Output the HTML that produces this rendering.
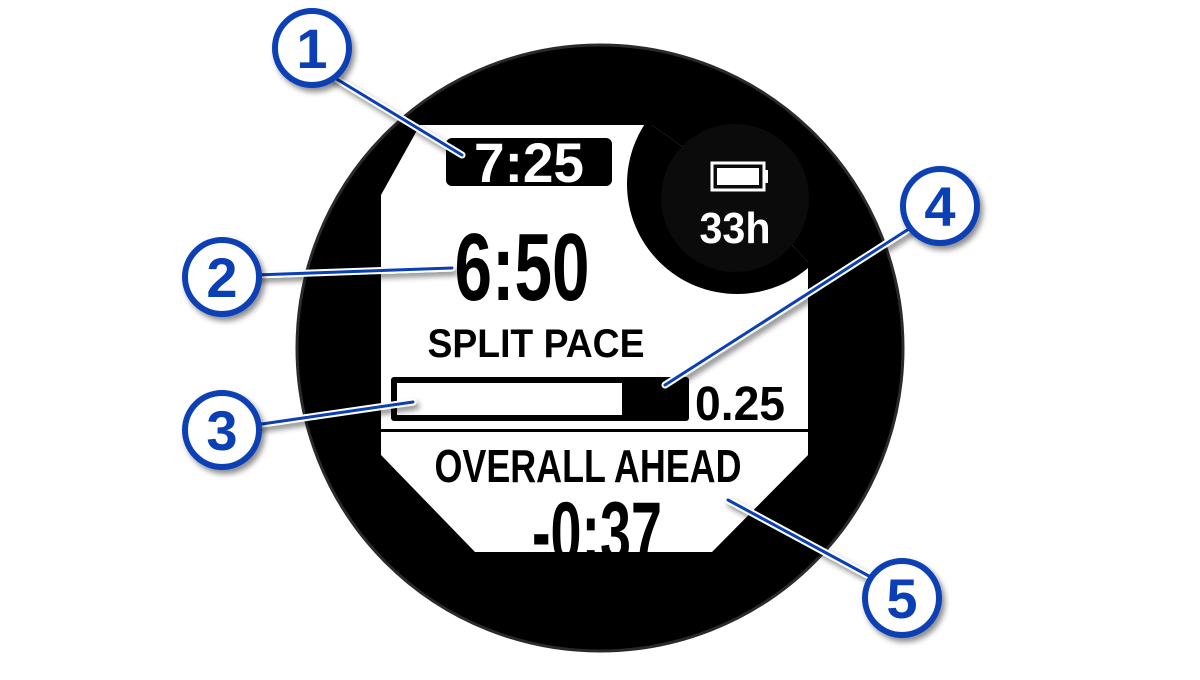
<!DOCTYPE html>
<html><head><style>
html,body{margin:0;padding:0;background:#fff;}
body{width:1200px;height:675px;overflow:hidden;}
svg text{font-family:"Liberation Sans Narrow","Liberation Sans",sans-serif;font-weight:bold;}
</style></head><body>
<svg width="1200" height="675" viewBox="0 0 1200 675" xmlns="http://www.w3.org/2000/svg">
<defs>
<filter id="sh" x="-50%" y="-50%" width="200%" height="200%"><feDropShadow dx="3" dy="4" stdDeviation="3" flood-color="#000" flood-opacity="0.45"/></filter>
<clipPath id="scr"><path d="M420,125 L652,125 L735,184 L808,262 L808,455 L712,552 L475,552 L381,455 L381,195 Z"/></clipPath>
</defs>
<circle cx="600" cy="348" r="303" fill="#000" stroke="#2a2a2a" stroke-width="3"/>
<g clip-path="url(#scr)">
<rect x="381" y="125" width="427" height="427" fill="#fff"/>
<circle cx="737" cy="184" r="110" fill="#000"/>
<rect x="446" y="138" width="166" height="48" rx="6" fill="#000"/>
<text x="529" y="182" font-size="56" fill="#fff" text-anchor="middle" textLength="110" lengthAdjust="spacingAndGlyphs">7:25</text>
<text x="522" y="300" font-size="96" fill="#000" text-anchor="middle" textLength="135" lengthAdjust="spacingAndGlyphs">6:50</text>
<text x="536" y="357" font-size="40" fill="#000" text-anchor="middle" textLength="217" lengthAdjust="spacingAndGlyphs">SPLIT PACE</text>
<rect x="391" y="377" width="298" height="44" rx="3" fill="#000"/>
<rect x="397" y="383" width="225" height="32" fill="#fff"/>
<text x="740" y="420" font-size="48" fill="#000" text-anchor="middle" textLength="90" lengthAdjust="spacingAndGlyphs">0.25</text>
<rect x="381" y="429" width="427" height="3" fill="#000"/>
<text x="588" y="482" font-size="46" fill="#000" text-anchor="middle" textLength="307" lengthAdjust="spacingAndGlyphs">OVERALL AHEAD</text>
<text x="597" y="562" font-size="86" fill="#000" text-anchor="middle" textLength="130" lengthAdjust="spacingAndGlyphs">-0:37</text>
</g>
<circle cx="735" cy="198" r="74" fill="#0b0b0b"/>
<rect x="712" y="163" width="52" height="27" fill="none" stroke="#fff" stroke-width="3"/>
<rect x="764" y="170" width="4" height="13" fill="#fff"/>
<rect x="717" y="168" width="42" height="17" fill="#fff"/>
<text x="735" y="243" font-size="44" fill="#fff" text-anchor="middle" textLength="71" lengthAdjust="spacingAndGlyphs">33h</text>
<g stroke-linecap="round">
<g stroke="#fff" stroke-width="7" filter="url(#sh)">
<line x1="330" y1="75" x2="462" y2="155"/><line x1="255" y1="275" x2="452" y2="268"/><line x1="255" y1="425" x2="413" y2="402"/><line x1="915" y1="225" x2="665" y2="385"/><line x1="880" y1="582" x2="728" y2="500"/>
</g>
<g stroke="#0a3fb5" stroke-width="3">
<line x1="330" y1="75" x2="462" y2="155"/><line x1="255" y1="275" x2="452" y2="268"/><line x1="255" y1="425" x2="413" y2="402"/><line x1="915" y1="225" x2="665" y2="385"/><line x1="880" y1="582" x2="728" y2="500"/>
</g>
</g>
<g filter="url(#sh)">
<circle cx="312" cy="48" r="37" fill="#fff" stroke="#0a3fb5" stroke-width="6"/>
<circle cx="222" cy="277" r="37" fill="#fff" stroke="#0a3fb5" stroke-width="6"/>
<circle cx="222" cy="430" r="37" fill="#fff" stroke="#0a3fb5" stroke-width="6"/>
<circle cx="940" cy="206" r="37" fill="#fff" stroke="#0a3fb5" stroke-width="6"/>
<circle cx="902" cy="598" r="37" fill="#fff" stroke="#0a3fb5" stroke-width="6"/>
</g>
<g fill="#0a3fb5" font-size="56" text-anchor="middle" style="font-family:'Liberation Sans',sans-serif;font-weight:bold">
<text x="312" y="68">1</text><text x="222" y="297">2</text><text x="222" y="450">3</text><text x="940" y="226">4</text><text x="902" y="618">5</text>
</g>
</svg>
</body></html>
